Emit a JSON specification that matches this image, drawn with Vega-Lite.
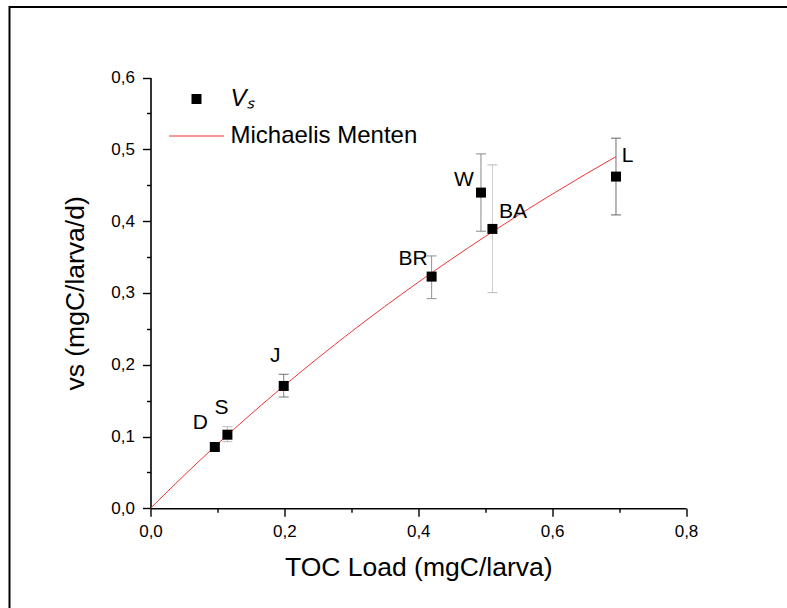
{
  "$schema": "https://vega.github.io/schema/vega-lite/v6.json",
  "autosize": {"type": "none"},
  "padding": {"left": 9.5, "top": 7, "right": -3, "bottom": -3},
  "width": 780.5,
  "height": 604,
  "background": "white",
  "config": {
    "view": {"stroke": "black", "strokeWidth": 2},
    "font": "Liberation Sans"
  },
  "datasets": {
    "obs": [
      {"label": "D", "load": 0.0961, "vs": 0.0854, "lo": 0.0815, "hi": 0.0895, "series": "Vₛ"},
      {"label": "S", "load": 0.1149, "vs": 0.1025, "lo": 0.0928, "hi": 0.1137, "series": "Vₛ"},
      {"label": "J", "load": 0.1990, "vs": 0.1704, "lo": 0.1550, "hi": 0.1867, "series": "Vₛ"},
      {"label": "BR", "load": 0.4200, "vs": 0.3227, "lo": 0.2920, "hi": 0.3515, "series": "Vₛ"},
      {"label": "W", "load": 0.4937, "vs": 0.4397, "lo": 0.3859, "hi": 0.4936, "series": "Vₛ"},
      {"label": "BA", "load": 0.5108, "vs": 0.3891, "lo": 0.3004, "hi": 0.4783, "series": "Vₛ"},
      {"label": "L", "load": 0.6954, "vs": 0.4620, "lo": 0.4086, "hi": 0.5155, "series": "Vₛ"}
    ],
    "fit": [
      {"load": 0, "vs": 0, "series": "Michaelis Menten"},
      {"load": 0.05, "vs": 0.0457, "series": "Michaelis Menten"},
      {"load": 0.1, "vs": 0.0894, "series": "Michaelis Menten"},
      {"load": 0.15, "vs": 0.1311, "series": "Michaelis Menten"},
      {"load": 0.2, "vs": 0.1710, "series": "Michaelis Menten"},
      {"load": 0.25, "vs": 0.2092, "series": "Michaelis Menten"},
      {"load": 0.3, "vs": 0.2459, "series": "Michaelis Menten"},
      {"load": 0.35, "vs": 0.2811, "series": "Michaelis Menten"},
      {"load": 0.4, "vs": 0.3148, "series": "Michaelis Menten"},
      {"load": 0.45, "vs": 0.3473, "series": "Michaelis Menten"},
      {"load": 0.5, "vs": 0.3785, "series": "Michaelis Menten"},
      {"load": 0.55, "vs": 0.4085, "series": "Michaelis Menten"},
      {"load": 0.6, "vs": 0.4374, "series": "Michaelis Menten"},
      {"load": 0.65, "vs": 0.4653, "series": "Michaelis Menten"},
      {"load": 0.6954, "vs": 0.4898, "series": "Michaelis Menten"}
    ]
  },
  "encoding": {
    "x": {
      "field": "load",
      "type": "quantitative",
      "title": "TOC Load (mgC/larva)",
      "scale": {"domain": [0, 0.8], "range": [141, 676.5], "nice": false, "zero": false},
      "axis": {
        "values": [0, 0.1, 0.2, 0.3, 0.4, 0.5, 0.6, 0.7, 0.8],
        "labelExpr": "abs(datum.value*5 - round(datum.value*5)) < 0.001 ? replace(format(datum.value, '.1f'), '.', ',') : ''",
        "tickSize": {"condition": {"test": "abs(datum.value*5 - round(datum.value*5)) < 0.001", "value": 8}, "value": 4},
        "offset": -102.7,
        "grid": false,
        "domainColor": "black",
        "domainWidth": 1.6,
        "tickColor": "black",
        "tickWidth": 1.4,
        "labelFont": "Liberation Sans",
        "labelFontSize": 17,
        "labelColor": "black",
        "labelPadding": 7,
        "labelFlush": false,
        "titleFont": "Liberation Sans",
        "titleFontSize": 26.5,
        "titleFontWeight": "normal",
        "titleColor": "black",
        "titlePadding": 15
      }
    },
    "y": {
      "field": "vs",
      "type": "quantitative",
      "title": "vs (mgC/larva/d)",
      "scale": {"domain": [0, 0.6], "range": [501.3, 70.5], "nice": false, "zero": false},
      "axis": {
        "values": [0, 0.05, 0.1, 0.15, 0.2, 0.25, 0.3, 0.35, 0.4, 0.45, 0.5, 0.55, 0.6],
        "labelExpr": "abs(datum.value*10 - round(datum.value*10)) < 0.001 ? replace(format(datum.value, '.1f'), '.', ',') : ''",
        "tickSize": {"condition": {"test": "abs(datum.value*10 - round(datum.value*10)) < 0.001", "value": 8}, "value": 4},
        "offset": -141,
        "grid": false,
        "domainColor": "black",
        "domainWidth": 1.6,
        "tickColor": "black",
        "tickWidth": 1.4,
        "labelFont": "Liberation Sans",
        "labelFontSize": 17,
        "labelColor": "black",
        "labelPadding": 8,
        "labelFlush": false,
        "titleFont": "Liberation Sans",
        "titleFontSize": 26.5,
        "titleFontWeight": "normal",
        "titleColor": "black",
        "titlePadding": 21
      }
    }
  },
  "layer": [
    {
      "data": {"name": "obs"},
      "mark": {"type": "rule", "strokeWidth": 1},
      "encoding": {
        "y": {"field": "lo", "type": "quantitative", "title": "vs (mgC/larva/d)", "scale": {"domain": [0, 0.6], "range": [501.3, 70.5], "nice": false, "zero": false}},
        "y2": {"field": "hi"},
        "stroke": {"field": "label", "type": "nominal", "legend": null, "scale": {"domain": ["D", "S", "J", "BR", "W", "BA", "L"], "range": ["#666666", "#bbbbbb", "#808080", "#909090", "#888888", "#cccccc", "#707070"]}}
      }
    },
    {
      "data": {"name": "obs"},
      "mark": {"type": "tick", "orient": "horizontal", "size": 10, "thickness": 1, "opacity": 1},
      "encoding": {
        "y": {"field": "lo", "type": "quantitative", "title": "vs (mgC/larva/d)", "scale": {"domain": [0, 0.6], "range": [501.3, 70.5], "nice": false, "zero": false}},
        "fill": {"field": "label", "type": "nominal", "legend": null, "scale": {"domain": ["D", "S", "J", "BR", "W", "BA", "L"], "range": ["#666666", "#bbbbbb", "#707070", "#909090", "#888888", "#bbbbbb", "#666666"]}}
      }
    },
    {
      "data": {"name": "obs"},
      "mark": {"type": "tick", "orient": "horizontal", "size": 10, "thickness": 1, "opacity": 1},
      "encoding": {
        "y": {"field": "hi", "type": "quantitative", "title": "vs (mgC/larva/d)", "scale": {"domain": [0, 0.6], "range": [501.3, 70.5], "nice": false, "zero": false}},
        "fill": {"field": "label", "type": "nominal", "legend": null, "scale": {"domain": ["D", "S", "J", "BR", "W", "BA", "L"], "range": ["#666666", "#bbbbbb", "#707070", "#909090", "#888888", "#bbbbbb", "#666666"]}}
      }
    },
    {
      "data": {"name": "fit"},
      "mark": {"type": "line", "strokeWidth": 1, "interpolate": "monotone"},
      "encoding": {
        "color": {
          "field": "series",
          "type": "nominal",
          "scale": {"domain": ["Vₛ", "Michaelis Menten"], "range": ["black", "#ee3333"]}
        }
      }
    },
    {
      "data": {"name": "obs"},
      "mark": {"type": "point", "filled": true, "size": 100, "opacity": 1},
      "encoding": {
        "color": {
          "field": "series",
          "type": "nominal",
          "scale": {"domain": ["Vₛ", "Michaelis Menten"], "range": ["black", "#ee3333"]},
          "legend": {
            "title": null,
            "orient": "none",
            "legendX": 175,
            "legendY": 80,
            "labelFont": "Liberation Sans",
            "labelFontSize": 24,
            "labelColor": "black",
            "labelLimit": 400,
            "symbolSize": 100,
            "labelOffset": 22,
            "rowPadding": 13,
            "encoding": {
              "symbols": {
                "size": {"value": {"expr": "datum.value === 'Michaelis Menten' ? 3025 : 100"}},
                "fill": {"value": {"expr": "datum.value === 'Michaelis Menten' ? 'transparent' : 'black'"}},
                "stroke": {"value": {"expr": "datum.value === 'Michaelis Menten' ? '#ee3333' : 'black'"}},
                "strokeWidth": {"value": {"expr": "datum.value === 'Michaelis Menten' ? 1 : 0"}},
                "opacity": {"value": 1}
              },
              "labels": {
                "fontStyle": {"value": {"expr": "datum.value === 'Michaelis Menten' ? 'normal' : 'italic'"}}
              }
            }
          }
        },
        "shape": {
          "field": "series",
          "type": "nominal",
          "scale": {"domain": ["Vₛ", "Michaelis Menten"], "range": ["square", "stroke"]},
          "legend": {
            "title": null,
            "orient": "none",
            "legendX": 175,
            "legendY": 80,
            "labelFont": "Liberation Sans",
            "labelFontSize": 24,
            "labelColor": "black",
            "labelLimit": 400,
            "symbolSize": 100,
            "labelOffset": 22,
            "rowPadding": 13,
            "encoding": {
              "symbols": {
                "size": {"value": {"expr": "datum.value === 'Michaelis Menten' ? 3025 : 100"}},
                "fill": {"value": {"expr": "datum.value === 'Michaelis Menten' ? 'transparent' : 'black'"}},
                "stroke": {"value": {"expr": "datum.value === 'Michaelis Menten' ? '#ee3333' : 'black'"}},
                "strokeWidth": {"value": {"expr": "datum.value === 'Michaelis Menten' ? 1 : 0"}},
                "opacity": {"value": 1}
              },
              "labels": {
                "fontStyle": {"value": {"expr": "datum.value === 'Michaelis Menten' ? 'normal' : 'italic'"}}
              }
            }
          }
        }
      }
    },
    {"data": {"name": "obs"}, "transform": [{"filter": "datum.label === 'D'"}], "mark": {"type": "text", "fontSize": 21, "font": "Liberation Sans", "color": "black", "align": "center", "baseline": "middle", "dx": -14.5, "dy": -23.6}, "encoding": {"text": {"field": "label"}}},
    {"data": {"name": "obs"}, "transform": [{"filter": "datum.label === 'S'"}], "mark": {"type": "text", "fontSize": 21, "font": "Liberation Sans", "color": "black", "align": "center", "baseline": "middle", "dx": -6, "dy": -26.7}, "encoding": {"text": {"field": "label"}}},
    {"data": {"name": "obs"}, "transform": [{"filter": "datum.label === 'J'"}], "mark": {"type": "text", "fontSize": 21, "font": "Liberation Sans", "color": "black", "align": "center", "baseline": "middle", "dx": -8.5, "dy": -30}, "encoding": {"text": {"field": "label"}}},
    {"data": {"name": "obs"}, "transform": [{"filter": "datum.label === 'BR'"}], "mark": {"type": "text", "fontSize": 21, "font": "Liberation Sans", "color": "black", "align": "center", "baseline": "middle", "dx": -18.5, "dy": -17.7}, "encoding": {"text": {"field": "label"}}},
    {"data": {"name": "obs"}, "transform": [{"filter": "datum.label === 'W'"}], "mark": {"type": "text", "fontSize": 21, "font": "Liberation Sans", "color": "black", "align": "center", "baseline": "middle", "dx": -17, "dy": -12.7}, "encoding": {"text": {"field": "label"}}},
    {"data": {"name": "obs"}, "transform": [{"filter": "datum.label === 'BA'"}], "mark": {"type": "text", "fontSize": 21, "font": "Liberation Sans", "color": "black", "align": "center", "baseline": "middle", "dx": 20.6, "dy": -17.3}, "encoding": {"text": {"field": "label"}}},
    {"data": {"name": "obs"}, "transform": [{"filter": "datum.label === 'L'"}], "mark": {"type": "text", "fontSize": 21, "font": "Liberation Sans", "color": "black", "align": "center", "baseline": "middle", "dx": 11.7, "dy": -21}, "encoding": {"text": {"field": "label"}}}
  ]
}
